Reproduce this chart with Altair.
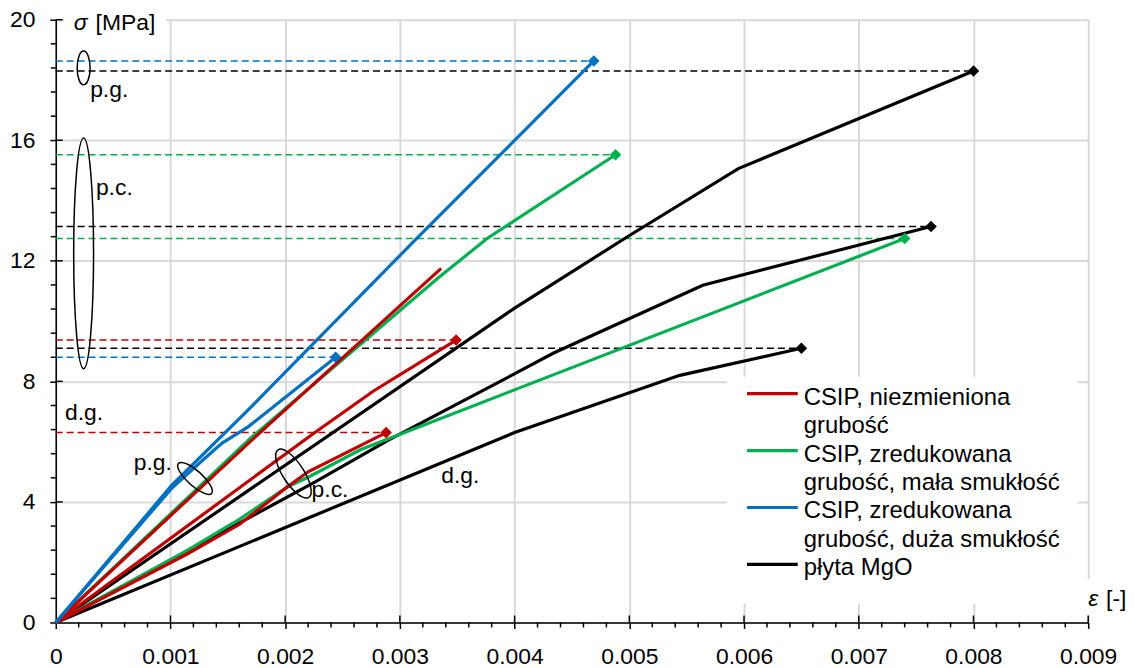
import altair as alt
import pandas as pd

# ------------------------------------------------------------------ data
series_names = ["CSIP, niezmieniona grubość",
                "CSIP, zredukowana grubość, mała smukłość",
                "CSIP, zredukowana grubość, duża smukłość",
                "płyta MgO"]
series_colors = ["#C00000", "#00B050", "#0070C0", "#000000"]
legend_lines = [["CSIP, niezmieniona", "grubość"],
                ["CSIP, zredukowana", "grubość, mała smukłość"],
                ["CSIP, zredukowana", "grubość, duża smukłość"],
                ["płyta MgO"]]

# CSIP, niezmieniona grubość (red)
red_top_eps = [0, 0.0017, 0.00336]
red_top_sig = [0, 6.02, 11.75]
red_mid_eps = [0, 0.00225, 0.00277, 0.00349]
red_mid_sig = [0, 6.28, 7.68, 9.37]
red_low_eps = [0, 0.00115, 0.0016, 0.00202, 0.0022, 0.00288]
red_low_sig = [0, 2.28, 3.25, 4.5, 5.0, 6.3]

# CSIP, zredukowana grubość, mała smukłość (green)
green_top_eps = [0, 0.0017, 0.00333, 0.00376, 0.00488]
green_top_sig = [0, 6.12, 11.42, 12.74, 15.52]
green_low_eps = [0, 0.00115, 0.0016, 0.00202, 0.0022, 0.00266, 0.0074]
green_low_sig = [0, 2.4, 3.42, 4.5, 4.82, 5.74, 12.74]

# CSIP, zredukowana grubość, duża smukłość (blue)
blue_top_eps = [0, 0.00101, 0.00168, 0.00313, 0.00469]
blue_top_sig = [0, 4.55, 7.06, 12.68, 18.63]
blue_low_eps = [0, 0.00101, 0.0013, 0.00145, 0.00168, 0.00244]
blue_low_sig = [0, 4.45, 5.45, 5.95, 6.5, 8.8]

# płyta MgO (black)
mgo_top_eps = [0, 0.0040, 0.00498, 0.00595, 0.0080]
mgo_top_sig = [0, 10.43, 12.79, 15.06, 18.3]
mgo_mid_eps = [0, 0.00225, 0.0029, 0.00385, 0.00434, 0.00564, 0.00763]
mgo_mid_sig = [0, 4.64, 6.05, 7.95, 8.94, 11.19, 13.14]
mgo_low_eps = [0, 0.0040, 0.00544, 0.0065]
mgo_low_sig = [0, 6.3, 8.2, 9.1]

x_ticks = [0, 0.001, 0.002, 0.003, 0.004, 0.005, 0.006, 0.007, 0.008, 0.009]
y_ticks = [0, 4, 8, 12, 16, 20]

# annotations (text and ellipse groups)
ann_text = ["p.g.", "p.c.", "d.g.", "p.g.", "p.c.", "d.g."]
ann_eps = [0.00030, 0.00035, 0.00008, 0.00068, 0.00223, 0.00336]
ann_sig = [17.44, 14.17, 6.73, 5.07, 4.15, 4.64]
ell_eps = [0.000243, 0.000243, 0.001214, 0.002072]
ell_sig = [18.4, 12.25, 4.78, 4.94]
ell_major = [34, 232, 45, 57]
ell_minor = [13, 20, 15, 21]
ell_angle = [90, 90, 42, 57]

# ------------------------------------------------------------------ tables
curves = [
    (3, "mgo_top", mgo_top_eps, mgo_top_sig, True),
    (3, "mgo_mid", mgo_mid_eps, mgo_mid_sig, True),
    (3, "mgo_low", mgo_low_eps, mgo_low_sig, True),
    (1, "green_top", green_top_eps, green_top_sig, True),
    (1, "green_low", green_low_eps, green_low_sig, True),
    (0, "red_top", red_top_eps, red_top_sig, False),
    (0, "red_mid", red_mid_eps, red_mid_sig, True),
    (0, "red_low", red_low_eps, red_low_sig, True),
    (2, "blue_top", blue_top_eps, blue_top_sig, True),
    (2, "blue_low", blue_low_eps, blue_low_sig, True),
]
rows, peaks = [], []
for k, name, eps, sig, mk in curves:
    for i, (e, s) in enumerate(zip(eps, sig)):
        rows.append(dict(series=series_names[k], curve=name, i=i, eps=e, sig=s))
    if mk:
        peaks.append(dict(series=series_names[k], x0=0.0, eps=eps[-1], sig=sig[-1]))
df = pd.DataFrame(rows)
dfp = pd.DataFrame(peaks)

W, H = 1038, 606
FONT = "Liberation Sans"
FS = 23

xs = alt.Scale(domain=[0, 0.009], nice=False, zero=True)
ys = alt.Scale(domain=[0, 20], nice=False, zero=True)
x_axis = alt.Axis(values=x_ticks, title=None, grid=True, gridColor="#D9D9D9", gridWidth=2,
                  domainColor="black", domainWidth=1.5, tickColor="black", tickWidth=1.5,
                  tickSize=6, labelFontSize=FS, labelFont=FONT, labelColor="black",
                  labelPadding=17, labelFlush=False,
                  labelExpr="datum.value == 0 ? '0' : format(datum.value, '.3f')")
y_axis = alt.Axis(values=y_ticks, title=None, grid=True, gridColor="#D9D9D9", gridWidth=2,
                  domainColor="black", domainWidth=1.5, tickColor="black", tickWidth=1.5,
                  tickSize=6, labelFontSize=FS, labelFont=FONT, labelColor="black",
                  labelPadding=15, labelFlush=False, format="d")
color = alt.Color("series:N", scale=alt.Scale(domain=series_names, range=series_colors), legend=None)

X = lambda f: alt.X(f, type="quantitative", scale=xs, axis=x_axis)
Y = lambda f: alt.Y(f, type="quantitative", scale=ys, axis=y_axis)

# white boxes behind axis titles
boxes = pd.DataFrame(dict(bx=[8, 1032], bx2=[111, 1080], by=[-12, 562], by2=[12, 599]))
white_boxes = alt.Chart(boxes).mark_rect(color="white").encode(
    x=alt.X("bx:Q", scale=None), x2="bx2:Q", y=alt.Y("by:Q", scale=None), y2="by2:Q")

dashed = alt.Chart(dfp).mark_rule(strokeDash=[7, 4], strokeWidth=1.5).encode(
    x=X("x0"), x2="eps:Q", y=Y("sig"), color=color)

line_layers = []
for k in [3, 1, 0, 2]:
    line_layers.append(
        alt.Chart(df[df.series == series_names[k]]).mark_line(strokeWidth=3.2).encode(
            x=X("eps"), y=Y("sig"), color=color, detail="curve:N", order="i:Q"))

diamonds = alt.Chart(dfp).mark_point(shape="diamond", filled=True, size=135, opacity=1).encode(
    x=X("eps"), y=Y("sig"), color=color)

# ticks crossing inside / minor ticks
ymaj = pd.DataFrame(dict(v=y_ticks[1:]))
xmaj = pd.DataFrame(dict(v=x_ticks[1:]))
ymin = pd.DataFrame(dict(v=[round(i * 0.8, 1) for i in range(26) if i % 5]))
xmin = pd.DataFrame(dict(v=[round(i * 0.0002, 4) for i in range(46) if i % 5]))
tick_style = dict(color="black", strokeWidth=1.5)
ymaj_in = alt.Chart(ymaj).mark_rule(**tick_style).encode(y=Y("v"), x=alt.value(0), x2=alt.value(7))
xmaj_in = alt.Chart(xmaj).mark_rule(**tick_style).encode(x=X("v"), y=alt.value(H), y2=alt.value(H - 7))
ymin_t = alt.Chart(ymin).mark_rule(**tick_style).encode(y=Y("v"), x=alt.value(-5), x2=alt.value(0))
xmin_t = alt.Chart(xmin).mark_rule(**tick_style).encode(x=X("v"), y=alt.value(H), y2=alt.value(H + 5))

# ellipses
ell = pd.DataFrame(dict(eps=ell_eps, sig=ell_sig, ang=ell_angle,
                        sz=[m * m for m in ell_major],
                        path=[f"M -1 0 A 1 {mi / ma:.4f} 0 1 0 1 0 A 1 {mi / ma:.4f} 0 1 0 -1 0 Z"
                              for ma, mi in zip(ell_major, ell_minor)]))
ellipses = alt.Chart(ell).mark_point(filled=False, color="black", strokeWidth=1.5, opacity=1).encode(
    x=X("eps"), y=Y("sig"),
    shape=alt.Shape("path:N", scale=None),
    size=alt.Size("sz:Q", scale=None),
    angle=alt.Angle("ang:Q", scale=None))

ann = pd.DataFrame(dict(t=ann_text, eps=ann_eps, sig=ann_sig))
ann_marks = alt.Chart(ann).mark_text(align="left", baseline="alphabetic", fontSize=FS,
                                     font=FONT, color="black").encode(
    x=X("eps"), y=Y("sig"), text="t:N")

# axis titles
def label(txt, px, py, italic=False):
    return alt.Chart(pd.DataFrame(dict(t=[txt]))).mark_text(
        align="left", baseline="alphabetic", fontSize=FS, font=FONT, color="black",
        fontStyle="italic" if italic else "normal").encode(
        x=alt.value(px), y=alt.value(py), text="t:N")

titles = [label("σ", 18, 10, True), label("[MPa]", 40, 10),
          label("ε", 1038, 589, True), label("[-]", 1056, 589)]

# legend (drawn by hand so that the swatch sits on the first line of each label)
LX, LY0, LSTEP = 752, 387, 28.6
leg_rows, leg_sw = [], []
r = 0
for k, lines in enumerate(legend_lines):
    leg_sw.append(dict(series=series_names[k], ly=LY0 - 11 + r * LSTEP))
    for t in lines:
        leg_rows.append(dict(t=t, ly=LY0 + r * LSTEP))
        r += 1
leg_box = alt.Chart(pd.DataFrame(dict(a=[0]))).mark_rect(color="white").encode(
    x=alt.value(675), x2=alt.value(1027), y=alt.value(359), y2=alt.value(587))
leg_sw_m = alt.Chart(pd.DataFrame(leg_sw)).mark_rule(strokeWidth=3.2).encode(
    x=alt.value(695), x2=alt.value(746), y=alt.Y("ly:Q", scale=None), color=color)
leg_txt = alt.Chart(pd.DataFrame(leg_rows)).mark_text(
    align="left", baseline="alphabetic", fontSize=24, font=FONT, color="black").encode(
    x=alt.value(LX), y=alt.Y("ly:Q", scale=None), text="t:N")

chart = alt.layer(
    white_boxes, dashed, *line_layers, diamonds, ymaj_in, xmaj_in, ymin_t, xmin_t,
    ellipses, ann_marks, *titles, leg_box, leg_sw_m, leg_txt
).properties(
    width=W, height=H,
    autosize=alt.AutoSizeParams(type="none"),
    padding={"left": 48, "top": 10, "right": 38, "bottom": 44},
).configure_view(stroke=None).configure(font=FONT, background="white")

chart.save("out.html", embed_options={"renderer": "svg", "actions": False})
